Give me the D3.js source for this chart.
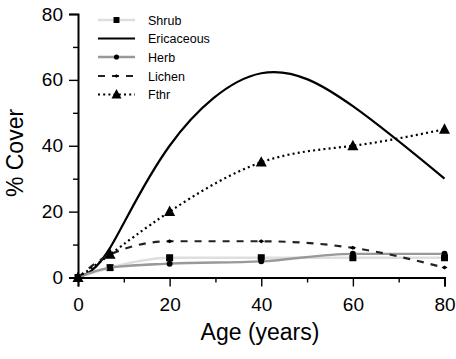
<!DOCTYPE html>
<html><head><meta charset="utf-8">
<script src="https://cdn.jsdelivr.net/npm/d3@7"></script>
<style>body{margin:0;background:#fff}svg{display:block}</style>
</head><body>
<svg id="c" width="456" height="359"></svg>
<script>
const ages = [0, 7, 20, 40, 60, 80];
const shrub = [0, 3, 6, 6, 6, 6];
const ericaceous = [0, 9, 40, 62, 52, 30];
const herb = [0, 3, 4.2, 4.9, 7.2, 7.2];
const lichen = [0, 7, 11, 11, 9, 3];
const fthr = [0, 7, 20, 35, 40, 45];
const xTicks = [0, 20, 40, 60, 80];
const yTicks = [0, 20, 40, 60, 80];
const seriesNames = ["Shrub", "Ericaceous", "Herb", "Lichen", "Fthr"];
const FONT = "Liberation Sans, Arial, Helvetica, sans-serif";

const svg = d3.select("#c");
const x = d3.scaleLinear().domain([0, 80]).range([78, 444.5]);
const y = d3.scaleLinear().domain([0, 80]).range([277.5, 14]);

const series = [
  {name: "Shrub", vals: shrub, stroke: "#dedede", width: 2.6, dash: null, marker: "square", msize: 7, curve: d3.curveMonotoneX},
  {name: "Ericaceous", vals: ericaceous, stroke: "#000", width: 2.2, dash: null, marker: null, curve: d3.curveNatural},
  {name: "Herb", vals: herb, stroke: "#999", width: 2.3, dash: null, marker: "circle", msize: 6, curve: d3.curveMonotoneX},
  {name: "Lichen", vals: lichen, stroke: "#222", width: 2.2, dash: "7,7", marker: "diamond", msize: 6, curve: d3.curveMonotoneX},
  {name: "Fthr", vals: fthr, stroke: "#000", width: 2.2, dash: "2,3.2", marker: "triangle", msize: 11, curve: d3.curveNatural}
];

function drawMarker(g, type, cx, cy, s) {
  if (type === "square") g.append("rect").attr("x", cx - s/2).attr("y", cy - s/2).attr("width", s).attr("height", s).attr("fill", "#000");
  else if (type === "circle") g.append("circle").attr("cx", cx).attr("cy", cy).attr("r", s/2).attr("fill", "#000");
  else if (type === "diamond") g.append("path").attr("d", `M${cx-s/2},${cy}L${cx},${cy-s/3}L${cx+s/2},${cy}L${cx},${cy+s/3}Z`).attr("fill", "#000");
  else if (type === "triangle") g.append("path").attr("d", `M${cx},${cy-s*0.55}L${cx+s/2},${cy+s*0.4}L${cx-s/2},${cy+s*0.4}Z`).attr("fill", "#000");
}

series.forEach(s => {
  const pts = ages.map((a, i) => [a, s.vals[i]]);
  const line = d3.line().x(d => x(d[0])).y(d => y(d[1])).curve(s.curve);
  svg.append("path").datum(pts).attr("d", line).attr("fill", "none")
    .attr("stroke", s.stroke).attr("stroke-width", s.width)
    .attr("stroke-dasharray", s.dash);
  if (s.marker) {
    const g = svg.append("g");
    pts.forEach(p => drawMarker(g, s.marker, x(p[0]), y(p[1]), s.msize));
  }
});

// axes
const xAxis = svg.append("g").attr("transform", `translate(0,${y(0)})`)
  .call(d3.axisBottom(x).tickValues(xTicks).tickSize(9).tickPadding(11).tickFormat(d3.format("d")));
const xMinor = svg.append("g").attr("transform", `translate(0,${y(0)})`)
  .call(d3.axisBottom(x).tickValues([10, 30, 50, 70]).tickSize(5).tickFormat(""));
const yAxis = svg.append("g").attr("transform", `translate(${x(0)},0)`)
  .call(d3.axisLeft(y).tickValues(yTicks).tickSize(9).tickPadding(6).tickFormat(d3.format("d")));
const yMinor = svg.append("g").attr("transform", `translate(${x(0)},0)`)
  .call(d3.axisLeft(y).tickValues([10, 30, 50, 70]).tickSize(5).tickFormat(""));
[xAxis, xMinor, yAxis, yMinor].forEach(a => {
  a.attr("font-family", FONT);
  a.select(".domain").attr("stroke", "#000").attr("stroke-width", 2);
  a.selectAll(".tick line").attr("stroke", "#000").attr("stroke-width", 1.4);
});
xMinor.select(".domain").remove(); yMinor.select(".domain").remove();
xAxis.selectAll("text").attr("font-size", 19).attr("fill", "#000");
yAxis.selectAll("text").attr("font-size", 19).attr("fill", "#000");

svg.append("text").attr("x", 260).attr("y", 340).attr("text-anchor", "middle")
  .attr("font-family", FONT).attr("font-size", 23).text("Age (years)");
svg.append("text").attr("transform", "translate(23,153) rotate(-90)").attr("text-anchor", "middle")
  .attr("font-family", FONT).attr("font-size", 23).text("% Cover");

// legend
const leg = svg.append("g");
const legY = [20, 38.5, 57, 76, 94.5];
series.forEach((s, i) => {
  const cy = legY[i];
  leg.append("line").attr("x1", 98).attr("x2", 135).attr("y1", cy).attr("y2", cy)
    .attr("stroke", s.stroke).attr("stroke-width", s.width).attr("stroke-dasharray", s.dash);
  if (s.marker) drawMarker(leg, s.marker, 116.5, cy, s.marker === "triangle" ? 10 : s.msize * 0.85);
  leg.append("text").attr("x", 148).attr("y", cy + 4.5).attr("font-family", FONT)
    .attr("font-size", 12.5).attr("fill", "#000").text(seriesNames[i]);
});
</script>
</body></html>
